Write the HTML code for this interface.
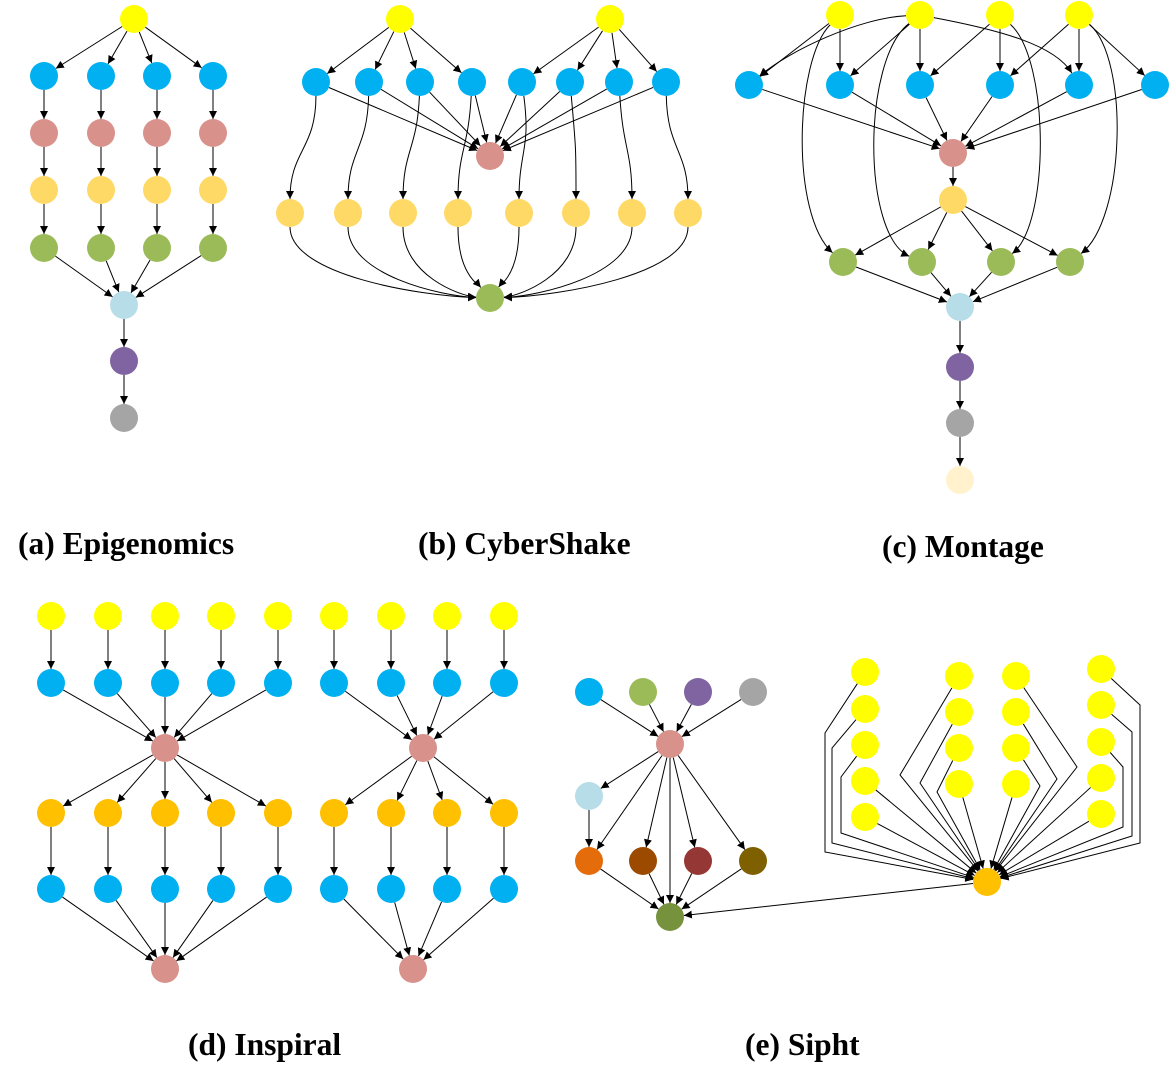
<!DOCTYPE html>
<html><head><meta charset="utf-8"><style>
html,body{margin:0;padding:0;background:#fff;}
svg{display:block;}
text{font-family:"Liberation Serif",serif;font-weight:bold;font-size:31.5px;fill:#000;}
</style></head><body>
<svg id="s" width="1170" height="1078" viewBox="0 0 1170 1078" xmlns="http://www.w3.org/2000/svg">
<defs><marker id="a" viewBox="0 0 10 10" refX="10" refY="5" markerWidth="8" markerHeight="8" markerUnits="userSpaceOnUse" orient="auto"><path d="M0,0L10,5L0,10z" fill="#000"/></marker></defs>
<g id="E" fill="none" stroke="#000" stroke-width="1" marker-end="url(#a)"></g>
<g id="N"></g>
<text x="18" y="554">(a) Epigenomics</text>
<text x="418" y="554">(b) CyberShake</text>
<text x="882" y="557">(c) Montage</text>
<text x="188" y="1055">(d) Inspiral</text>
<text x="745" y="1055">(e) Sipht</text>
</svg>
<script>
var R=14,NS="http://www.w3.org/2000/svg",E=document.getElementById('E'),Ng=document.getElementById('N');
var C={y:'#FFFF00',b:'#00B0F0',p:'#D9918B',l:'#FFD966',g:'#9BBB59',lb:'#B7DDE8',pu:'#8064A2',gr:'#A5A5A5',cr:'#FFF2CC',o:'#FFC000',so:'#E46C0A',br:'#9C4A00',dr:'#953735',ol:'#7F6000',dg:'#76923C'};
function node(x,y,c){var e=document.createElementNS(NS,'circle');e.setAttribute('cx',x);e.setAttribute('cy',y);e.setAttribute('r',R);e.setAttribute('fill',C[c]);Ng.appendChild(e);return [x,y];}
function pt(a,b){var dx=b[0]-a[0],dy=b[1]-a[1],d=Math.hypot(dx,dy);return [a[0]+dx/d*R,a[1]+dy/d*R];}
function path(d){var e=document.createElementNS(NS,'path');e.setAttribute('d',d);E.appendChild(e);}
function L(a,b){var s=pt(a,b),t=pt(b,a);path('M'+s+'L'+t);}
function Cv(a,b,c1,c2){var s=pt(a,c1),t=pt(b,c2);path('M'+s+'C'+c1+' '+c2+' '+t);}
function P(a,b,pts){var s=pt(a,pts[0]),t=pt(b,pts[pts.length-1]);path('M'+s+'L'+pts.join('L')+'L'+t);}
// (a)
var ar=node(134,19,'y'),ax=[44,101,157,213],alb=node(124,305,'lb'),apu=node(124,361,'pu'),agr=node(124,418,'gr');
ax.forEach(function(x){var b=node(x,76,'b'),p=node(x,133,'p'),l=node(x,190,'l'),g=node(x,248,'g');L(ar,b);L(b,p);L(p,l);L(l,g);L(g,alb);});
L(alb,apu);L(apu,agr);
// (b)
var br1=node(400,19,'y'),br2=node(610,19,'y'),bp=node(490,156,'p'),bg=node(490,298,'g');
var bbx=[316,369,420,472,522,570,619,666],byx=[290,348,403,458,519,576,632,688];
bbx.forEach(function(x,i){var b=node(x,82,'b'),l=node(byx[i],213,'l');L(i<4?br1:br2,b);L(b,bp);
 Cv(b,l,[x-(x<490?8:-8)-(byx[i]-x)*0.3,150],[byx[i],150]);
 var dx=byx[i]-490;Cv(l,bg,[byx[i],275],[490+dx*0.35,Math.abs(dx)>60?296:285]);});
// (c)
var cy=[840,920,1000,1079].map(function(x){return node(x,15,'y');});
var cb=[749,840,920,1000,1079,1155].map(function(x){return node(x,85,'b');});
var cp=node(953,153,'p'),co=node(953,200,'l');
var cg=[843,922,1001,1070].map(function(x){return node(x,262,'g');});
var clb=node(960,307,'lb'),cpu=node(960,367,'pu'),cgr=node(960,423,'gr'),ccr=node(960,480,'cr');
L(cy[0],cb[0]);L(cy[0],cb[1]);Cv(cy[0],cg[0],[795,60],[790,215]);
Cv(cy[1],cb[0],[860,18],[790,50]);L(cy[1],cb[1]);L(cy[1],cb[2]);Cv(cy[1],cg[1],[862,60],[862,235]);Cv(cy[1],cb[4],[1000,30],[1055,45]);
L(cy[2],cb[2]);L(cy[2],cb[3]);Cv(cy[2],cg[2],[1050,60],[1050,225]);
L(cy[3],cb[3]);L(cy[3],cb[4]);L(cy[3],cb[5]);Cv(cy[3],cg[3],[1130,60],[1125,220]);
cb.forEach(function(b){L(b,cp);});L(cp,co);cg.forEach(function(g){L(co,g);L(g,clb);});L(clb,cpu);L(cpu,cgr);L(cgr,ccr);
// (d)
function insp(xs,px,p2x){var pm=node(px,748,'p'),pb=node(p2x,969,'p');xs.forEach(function(x){var y=node(x,616,'y'),b=node(x,683,'b'),o=node(x,813,'o'),b2=node(x,889,'b');L(y,b);L(b,pm);L(pm,o);L(o,b2);L(b2,pb);});}
insp([51,108,165,221,278],165,165);insp([334,391,447,504],423,413);
// (e)
var st=[node(589,692,'b'),node(643,692,'g'),node(698,692,'pu'),node(753,692,'gr')];
var sp=node(670,744,'p'),slb=node(589,796,'lb');
var sr=[node(589,861,'so'),node(643,861,'br'),node(698,861,'dr'),node(753,861,'ol')];
var sdg=node(670,917,'dg'),so=node(987,882,'o');
st.forEach(function(n){L(n,sp);});L(sp,slb);L(slb,sr[0]);sr.forEach(function(n){L(sp,n);L(n,sdg);});L(sp,sdg);L(so,sdg);
var c1=[672,709,745,781,817].map(function(y){return node(865,y,'y');});
var c2=[676,712,748,784].map(function(y){return node(959,y,'y');});
var c3=[676,712,748,784].map(function(y){return node(1016,y,'y');});
var c4=[669,705,742,778,814].map(function(y){return node(1101,y,'y');});
P(c1[0],so,[[825,733],[825,852]]);P(c1[1],so,[[832,748],[832,843]]);P(c1[2],so,[[841,777],[841,833]]);L(c1[3],so);L(c1[4],so);
P(c2[0],so,[[900,775]]);P(c2[1],so,[[920,783]]);P(c2[2],so,[[937,792]]);L(c2[3],so);
P(c3[0],so,[[1077,767]]);P(c3[1],so,[[1057,779]]);P(c3[2],so,[[1040,786]]);L(c3[3],so);
P(c4[0],so,[[1140,705],[1140,843]]);P(c4[1],so,[[1132,732],[1132,836]]);P(c4[2],so,[[1123,767],[1123,827]]);L(c4[3],so);L(c4[4],so);
</script>
</body></html>
